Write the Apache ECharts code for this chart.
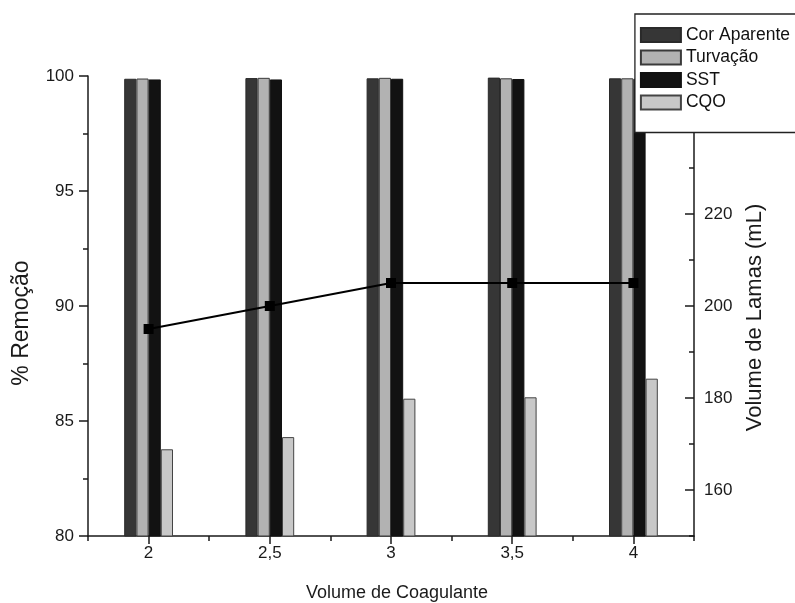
<!DOCTYPE html>
<html>
<head>
<meta charset="utf-8">
<script src="https://cdn.jsdelivr.net/npm/echarts@6/dist/echarts.min.js"></script>
<style>
  html, body { margin: 0; padding: 0; background: #fff; }
  #chart { width: 795px; height: 603px; }
</style>
</head>
<body>
<div id="chart"></div>
<script>
// Coagulant volume (categories on the x axis)
const categories = ['2', '2,5', '3', '3,5', '4'];

// % removal per parameter
const corAparente = [99.88, 99.91, 99.90, 99.93, 99.90];
const turvacao    = [99.89, 99.92, 99.92, 99.90, 99.90];
const sst         = [99.85, 99.85, 99.88, 99.87, 99.88];
const cqo         = [83.77, 84.30, 85.97, 86.03, 86.84];

// Sludge volume (mL), right axis
const volumeLamas = [195, 200, 205, 205, 205];

// Tick values
const leftTicks = [80, 85, 90, 95, 100];
const rightTicks = [160, 180, 200, 220, 240];

const FONT = 'Liberation Sans, Arial, sans-serif';
const AX = '#1a1a1a';

const barBase = {
  type: 'bar',
  xAxisIndex: 0,
  yAxisIndex: 0,
  barWidth: 12.2,
  barGap: '0%',
  z: 2
};

const option = {
  animation: false,
  backgroundColor: '#fff',
  textStyle: { fontFamily: FONT },
  grid: { left: 88, top: 76, width: 606, height: 460, containLabel: false, outerBoundsMode: 'none' },
  legend: {
    data: ['Cor Aparente', 'Turvação', 'SST', 'CQO'],
    orient: 'vertical',
    right: -50,
    top: 14,
    padding: [12, 55, 21, 5],
    itemWidth: 40,
    itemHeight: 14,
    itemGap: 4.5,
    icon: 'rect',
    backgroundColor: '#fff',
    borderColor: '#222',
    borderWidth: 1.3,
    z: 10,
    textStyle: { fontFamily: FONT, fontSize: 17.5, color: '#111' }
  },
  xAxis: [
    {
      type: 'category',
      data: categories,
      boundaryGap: true,
      name: 'Volume de Coagulante',
      nameLocation: 'middle',
      nameGap: 48,
      nameTextStyle: { fontFamily: FONT, fontSize: 18, color: '#1a1a1a', padding: [0, 0, 0, 12] },
      axisLine: { show: true, lineStyle: { color: AX, width: 1.5 } },
      axisTick: { show: true, alignWithLabel: true, length: 8, inside: false, lineStyle: { color: AX, width: 1.5 } },
      axisLabel: { fontFamily: FONT, fontSize: 17, color: '#1a1a1a', margin: 9 },
      splitLine: { show: false }
    },
    {
      // boundary (minor) ticks between categories
      type: 'category',
      data: categories,
      boundaryGap: true,
      position: 'bottom',
      axisLine: { show: false },
      axisTick: { show: true, alignWithLabel: false, length: 5, lineStyle: { color: AX, width: 1.5 } },
      axisLabel: { show: false },
      splitLine: { show: false }
    }
  ],
  yAxis: [
    {
      type: 'value',
      min: 80,
      max: 100,
      interval: 5,
      position: 'left',
      name: '% Remoção',
      nameLocation: 'middle',
      nameGap: 55,
      nameTextStyle: { fontFamily: FONT, fontSize: 23, color: '#1a1a1a', padding: [0, 34, 0, 0] },
      axisLine: { show: true, lineStyle: { color: AX, width: 1.5 } },
      axisTick: { show: true, inside: false, length: 9, customValues: leftTicks, lineStyle: { color: AX, width: 1.5 } },
      minorTick: { show: true, splitNumber: 2, length: 5, lineStyle: { color: AX, width: 1.5 } },
      axisLabel: { fontFamily: FONT, fontSize: 17, color: '#1a1a1a', margin: 14, customValues: leftTicks },
      splitLine: { show: false }
    },
    {
      type: 'value',
      min: 150,
      max: 250,
      interval: 10,
      position: 'right',
      name: 'Volume de Lamas (mL)',
      nameLocation: 'middle',
      nameGap: 50,
      nameTextStyle: { fontFamily: FONT, fontSize: 22, color: '#1a1a1a', padding: [0, 23, 0, 0] },
      axisLine: { show: true, lineStyle: { color: AX, width: 1.5 } },
      axisTick: { show: true, inside: true, length: 9, customValues: rightTicks, lineStyle: { color: AX, width: 1.5 } },
      axisLabel: { fontFamily: FONT, fontSize: 17, color: '#1a1a1a', margin: 10, customValues: rightTicks },
      splitLine: { show: false }
    },
    {
      // intermediate ticks on the right axis
      type: 'value',
      min: 150,
      max: 250,
      interval: 10,
      position: 'right',
      axisLine: { show: false },
      axisTick: { show: true, inside: true, length: 5, lineStyle: { color: AX, width: 1.5 } },
      axisLabel: { show: false },
      splitLine: { show: false }
    }
  ],
  series: [
    Object.assign({}, barBase, {
      name: 'Cor Aparente', data: corAparente,
      itemStyle: { color: '#363636', borderColor: '#2a2a2a', borderWidth: 1 }
    }),
    Object.assign({}, barBase, {
      name: 'Turvação', data: turvacao,
      itemStyle: { color: '#b2b2b2', borderColor: '#3a3a3a', borderWidth: 1 }
    }),
    Object.assign({}, barBase, {
      name: 'SST', data: sst,
      itemStyle: { color: '#121212', borderColor: '#111', borderWidth: 1 }
    }),
    Object.assign({}, barBase, {
      name: 'CQO', data: cqo,
      itemStyle: { color: '#c8c8c8', borderColor: '#444', borderWidth: 1 }
    }),
    {
      name: 'Volume de Lamas',
      type: 'line',
      xAxisIndex: 0,
      yAxisIndex: 1,
      data: volumeLamas,
      symbol: 'rect',
      symbolSize: 10,
      z: 5,
      lineStyle: { color: '#000', width: 2 },
      itemStyle: { color: '#000' }
    }
  ]
};

const chart = echarts.init(document.getElementById('chart'), null, { renderer: 'canvas' });
chart.setOption(option);
</script>
</body>
</html>
